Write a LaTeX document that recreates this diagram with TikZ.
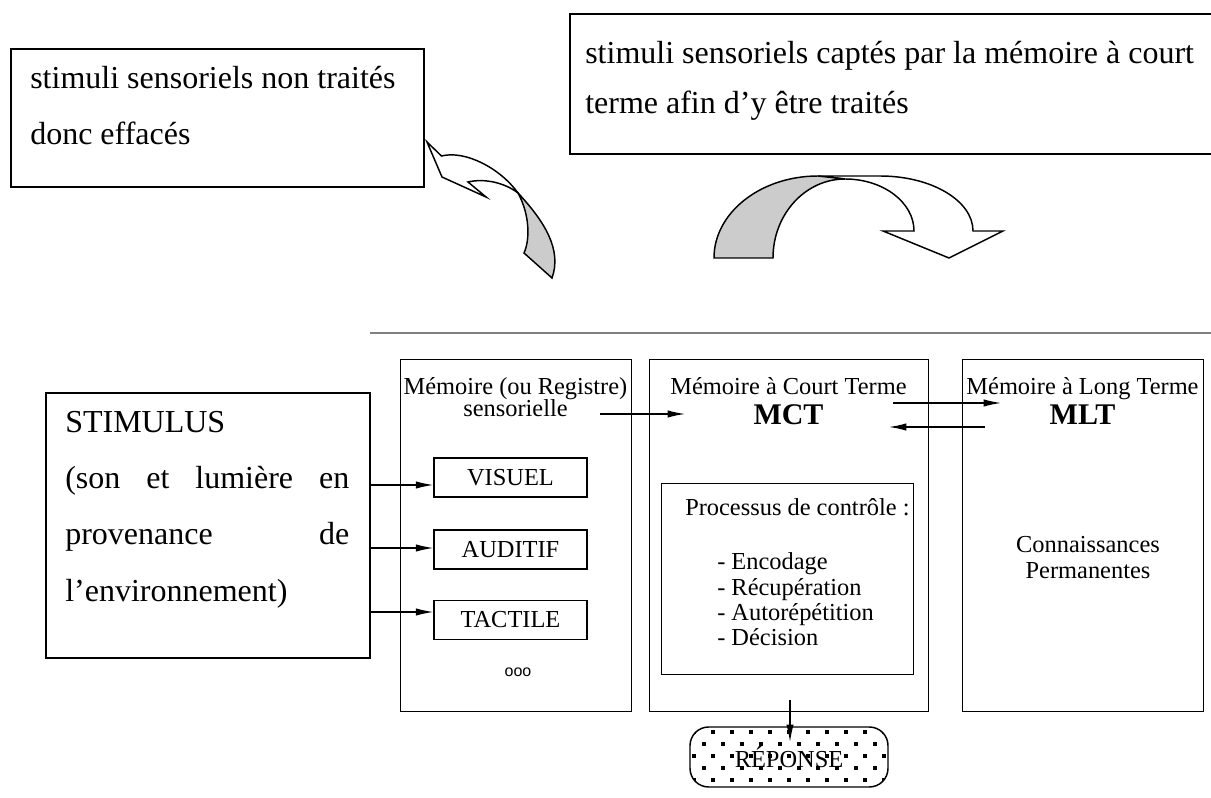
\documentclass[tikz,border=0pt]{standalone}
\usepackage{fontspec}
\setmainfont{Liberation Serif}
\newfontfamily\dotsfont{Liberation Sans}
\usetikzlibrary{arrows.meta}
\begin{document}
\begin{tikzpicture}[x=0.75pt,y=-0.75pt,
  box/.style={draw, line width=1.3pt, inner sep=0pt},
  mbox/.style={draw, line width=1.1pt, inner sep=0pt},
  big/.style={font=\fontsize{24}{24}\selectfont, inner sep=0pt},
  small/.style={font=\fontsize{18.3}{16.5}\selectfont, inner sep=0pt},
  bold/.style={font=\fontsize{22.5}{22.5}\selectfont\bfseries, inner sep=0pt},
  arr/.style={line width=0.9pt, -{Latex[length=13pt,width=5.5pt]}},
  curvearrow/.style={line width=1.1pt, line join=miter},
  backface/.style={curvearrow, fill=black!20},
  frontface/.style={curvearrow, fill=white}
]
\useasboundingbox (0,0) rectangle (1211,798);
\fill[white] (0,0) rectangle (1211,798);

% ---------- top boxes ----------
\node[box, anchor=north west, minimum width=309.75pt, minimum height=103.5pt] (tl) at (10,48) {};
\node[big, anchor=base west] (tlA) at (30,89) {stimuli sensoriels non traités};
\node[big, anchor=base west] (tlB) at (30,145) {donc effacés};

\node[box, anchor=north west, minimum width=483.75pt, minimum height=105pt] (tr) at (569,13) {};
\node[big, anchor=base west] (trA) at (585,64) {stimuli sensoriels captés par la mémoire à court};
\node[big, anchor=base west] (trB) at (585,114) {terme afin d’y être traités};

% ---------- left twisted arrow ----------
\draw[frontface] (427,142) -- (441.5,156)
  .. controls (465,150) and (500,168) .. (518,193)
  .. controls (505,183) and (485,178) .. (468,182)
  -- (486,197) -- (442,177) -- cycle;
\draw[backface] (518,193)
  .. controls (545,222) and (562,250) .. (552,278)
  -- (524,253)
  .. controls (530,240) and (530,215) .. (518,193) -- cycle;

% ---------- right curved arrow ----------
\draw[frontface] (818,176) -- (880,176)
  .. controls (931.4,176) and (973,200.6) .. (973,231)
  -- (1003,231) -- (949,258) -- (883,231) -- (914,231)
  .. controls (914,202.3) and (883.1,179) .. (845,179) -- cycle;
\draw[backface] (714,258)
  .. controls (714,212.7) and (760.6,176) .. (818,176)
  -- (845,179)
  .. controls (805.2,179) and (773,214.4) .. (773,258) -- cycle;

% ---------- separator ----------
\draw[black!50, line width=1.4pt] (370,333) -- (1211,333);

% ---------- STIMULUS ----------
\node[box, anchor=north west, minimum width=243pt, minimum height=198.75pt] (stim) at (45,392) {};
\node[big, anchor=base west] (stA) at (65,433) {STIMULUS};
\node[big, anchor=base west] (stB) at (65,489) {\makebox[213pt][s]{(son et lumière en}};
\node[big, anchor=base west] (stC) at (65,545) {\makebox[213pt][s]{provenance de}};
\node[big, anchor=base west] (stD) at (65,601) {l’environnement)};

% ---------- memory boxes ----------
\node[mbox, anchor=north west, minimum width=173.25pt, minimum height=264pt] (sens) at (400,359) {};
\node[mbox, anchor=north west, minimum width=209.25pt, minimum height=264pt] (mct) at (649,359) {};
\node[mbox, anchor=north west, minimum width=180.75pt, minimum height=264pt] (mlt) at (962,359) {};

\node[small, anchor=base] (sensA) at (515.5,395) {Mémoire (ou Registre)};
\node[small, anchor=base] (sensB) at (515.5,417) {sensorielle};
\node[small, anchor=base] (mctA) at (788.5,395) {Mémoire à Court Terme};
\node[bold, anchor=base] (mctB) at (788.5,425) {MCT};
\node[small, anchor=base] (mltA) at (1082.5,395) {Mémoire à Long Terme};
\node[bold, anchor=base] (mltB) at (1082.5,425) {MLT};

% sensory sub-boxes
\node[mbox, minimum width=114.75pt, minimum height=29.4pt, small] (vis) at (510.5,477.5) {VISUEL};
\node[mbox, minimum width=114.75pt, minimum height=29.4pt, small] (aud) at (510.5,549.5) {AUDITIF};
\node[mbox, minimum width=114.75pt, minimum height=29.4pt, small] (tac) at (510.5,620) {TACTILE};
\node[font=\dotsfont\fontsize{12}{12}\selectfont, inner sep=0pt] (etc) at (518,672) {ooo};

% process box
\node[mbox, anchor=north west, minimum width=189pt, minimum height=143.25pt] (proc) at (661,483) {};
\node[small, anchor=base west] (pA) at (685,516) {Processus de contrôle :};
\node[small, anchor=base west] (pB) at (717,570) {- Encodage};
\node[small, anchor=base west] (pC) at (717,595) {- Récupération};
\node[small, anchor=base west] (pD) at (717,620) {- Autorépétition};
\node[small, anchor=base west] (pE) at (717,645) {- Décision};

% MLT content
\node[small, anchor=base] (kA) at (1088,552) {Connaissances};
\node[small, anchor=base] (kB) at (1088,579) {Permanentes};

% ---------- REPONSE ----------
\begin{scope}
\clip[rounded corners=14pt] (690,727) rectangle (888,787);
\foreach \r in {0,...,4} {
  \pgfmathsetmacro\yy{730+12*\r}
  \pgfmathsetmacro\off{mod(\r,2)*9.5}
  \foreach \c in {0,...,10} {
    \fill ({692+\off+19*\c},\yy) rectangle ++(4,4);
  }
}
\end{scope}
\node[mbox, rounded corners=14pt, minimum width=148.5pt, minimum height=45pt, small] (rep) at (789,757) {RÉPONSE};

% ---------- connectors ----------
\coordinate (s1) at (600,414);
\coordinate (s2) at (685,414);
\draw[arr] (s1) -- (s2);
\coordinate (m1) at (893,403);
\coordinate (m2) at (1001,403);
\draw[arr] (m1) -- (m2);
\coordinate (l1) at (985,427);
\coordinate (l2) at (889,427);
\draw[arr] (l1) -- (l2);

\coordinate (a1) at (369,485);
\coordinate (a2) at (369,548);
\coordinate (a3) at (369,612);
\draw[arr] (a1) -- (vis.west |- a1);
\draw[arr] (a2) -- (aud.west |- a2);
\draw[arr] (a3) -- (tac.west |- a3);

\coordinate (r0) at (790,700);
\coordinate (r1) at (790,742);
\draw[arr] (r0) -- (r1);
\end{tikzpicture}
\end{document}
